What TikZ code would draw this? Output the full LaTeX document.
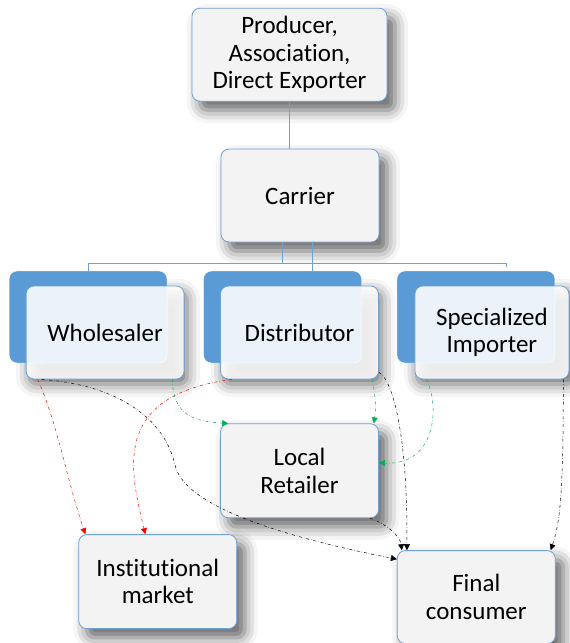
\documentclass[tikz,border=0pt]{standalone}
\usepackage{fontspec}
\setmainfont{Carlito}[Ligatures=NoCommon]
\usetikzlibrary{arrows.meta,positioning,shadows.blur}
\definecolor{boxline}{RGB}{112,160,214}
\definecolor{boxfill}{RGB}{243,243,244}
\definecolor{backblue}{RGB}{91,155,213}
\definecolor{flowred}{RGB}{255,0,0}
\definecolor{flowgreen}{RGB}{0,176,80}

\begin{document}
\begin{tikzpicture}[x=1pt,y=-1pt,>={Triangle[length=6pt,width=6pt]}]
        \tikzset{box/.style= {draw=boxline, line width=0.8pt, fill=boxfill, rectangle, rounded corners=8pt, align=center,
            minimum width=158pt, minimum height=93pt, font=\fontsize{25}{27.5}\selectfont},
        block/.style={box, blur shadow={shadow xshift=8pt, shadow yshift=-9pt, shadow blur radius=13pt, shadow opacity=62}},
        front/.style={box, fill=white, fill opacity=0.88, text opacity=1},
        back/.style={box, draw=white, line width=0.4pt, fill=backblue, minimum height=92pt,
            blur shadow={shadow xshift=20pt, shadow yshift=-21pt, shadow blur radius=13pt, shadow opacity=60}},
        link/.style={draw=boxline, line width=0.8pt},
        flow/.style={->, dash dot, line width=0.5pt}
        }
        \useasboundingbox (0,0) rectangle (570,643);
        \node[block] (carrier) at (300,195.5) {Carrier};
        \node[block, minimum width=195pt, above=47pt of carrier, xshift=-10.5pt] (prod) {Producer,\\Association,\\Direct Exporter};
        \node[back] (distb) at (282.5,317) {};
        \node[back, left=36pt of distb] (wholeb) {};
        \node[back, right=35pt of distb] (specb) {};
        \node[front] (whole) at ([xshift=17pt,yshift=-15.5pt]wholeb.center) {Wholesaler};
        \node[front] (dist) at ([xshift=17pt,yshift=-15.5pt]distb.center) {Distributor};
        \node[front, minimum width=154pt] (spec) at ([xshift=16pt,yshift=-15.5pt]specb.center) {Specialized\\Importer};
        \node[block, minimum height=94pt, below=44pt of dist] (lret) {Local\\Retailer};
        \node[block, minimum height=94pt, below left=16pt and -17pt of lret] (inst) {Institutional\\market};
        \node[block, below right=32pt and 18pt of lret] (final) {Final\\consumer};
        \coordinate (bus) at (0,263);

%% tree
        \draw[link] ([xshift=12pt]carrier.south) -- ([xshift=12pt]carrier.south |- distb.north);
        \draw[link] ([xshift=-18pt]carrier.south) -- ([xshift=-18pt]carrier.south |- bus);
        \draw[link] (prod) -- (prod |- carrier.north);
        \draw[link] (wholeb.north) -- (wholeb.north |- bus) -- ([xshift=30pt]specb.north |- bus) -- ([xshift=30pt,yshift=-4pt]specb.north |- bus);

%% flows
        \draw[flow, flowred] ([xshift=12pt]whole.south west) .. controls +(20,45) and +(-20,-60) .. ([xshift=7pt]inst.north west);
        \draw[flow, flowred] ([xshift=12pt]dist.south west) .. controls +(-122,16) and +(-15,-63) .. ([xshift=67pt]inst.north west);
        \draw[flow] ([xshift=16pt]whole.south west) .. controls (120,385) and (165,420) .. (175,465)
                    .. controls (185,510) and (300,540) .. ([yshift=-9pt]final.north west);
        \draw[flow, flowgreen] ([xshift=-12pt]whole.south east) .. controls +(0,35) and +(-35,-2) .. ([xshift=8pt]lret.north west);
        \draw[flow, flowgreen] ([xshift=-7pt]dist.south east) .. controls +(4,15) and +(2,-15) .. ([xshift=-5pt]lret.north east);
        \draw[flow] ([yshift=7pt]dist.south east) .. controls +(15,8) and +(1,-109) .. ([xshift=10pt]final.north west);
        \draw[flow, flowgreen] ([xshift=12pt]spec.south west) .. controls +(13,26) and +(58,3) .. ([yshift=8pt]lret.east);
        \draw[flow] ([xshift=-9pt]lret.south east) .. controls +(15,5) and +(-2,-15) .. ([xshift=5pt]final.north west);
        \draw[flow] ([xshift=-6pt]spec.south east) .. controls +(0,110) and +(10,-30) .. ([xshift=-5pt]final.north east);
\end{tikzpicture}
\end{document}
